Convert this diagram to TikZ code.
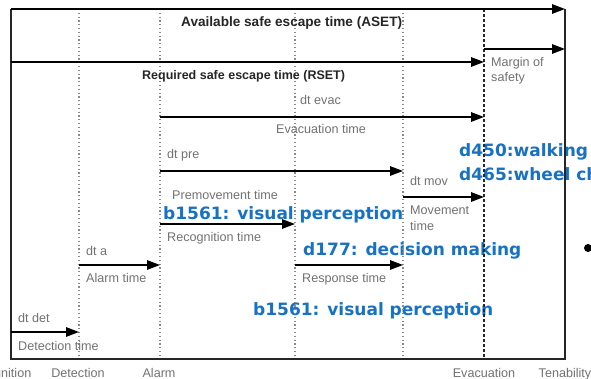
\documentclass[tikz,border=0pt]{standalone}
\usepackage{fontspec}
\setmainfont{Liberation Sans}
\newfontfamily\bluefont{DejaVu Sans}
\usetikzlibrary{arrows.meta}
\definecolor{txtgray}{HTML}{727272}
\definecolor{icfblue}{HTML}{1872C4}
\definecolor{dotgray}{HTML}{8A8A8A}
\tikzset{
  gl/.style={anchor=base west, inner sep=0pt, text=txtgray, font=\fontsize{12.6}{13}\selectfont},
  bl/.style={anchor=base west, inner sep=0pt, text=black!85, font=\fontsize{12.5}{13}\selectfont\bfseries},
  icf/.style={anchor=base west, inner sep=0pt, text=icfblue, font=\bluefont\fontsize{17}{20}\selectfont\bfseries},
  tl/.style={anchor=base, inner sep=0pt, text=txtgray, font=\fontsize{12.6}{13}\selectfont},
  arr/.style={line width=1.4pt, -{Triangle[length=13pt,width=9.5pt]}},
  frame/.style={line width=1.4pt, draw=black!85},
  dotv/.style={line width=1.2pt, draw=dotgray, dash pattern=on 1.2pt off 2.6pt},
  dashv/.style={line width=1.3pt, draw=black!85, dash pattern=on 3pt off 2pt}
}
\begin{document}
\begin{tikzpicture}[x=1pt,y=-1pt]
\useasboundingbox (0,0) rectangle (591,379);
\clip (0,0) rectangle (591,379);
\fill[white] (0,0) rectangle (591,379);
% blue ICF labels (under the lines)
\node[icf] (w1) at (459,157) {d450:walking};
\node[icf] (w2) at (459,181) {d465:wheel chair};
\node[icf] (v1) at (163,220) {b1561: visual perception};
\node[icf] (dm) at (303,255) {d177: decision making};
\node[icf] (v2) at (253,315) {b1561: visual perception};
\fill (588,248) circle (4);
% event coordinates
\coordinate (ig) at (11,359);
\coordinate (de) at (79,359);
\coordinate (al) at (160,359);
\coordinate (rc) at (295,359);
\coordinate (rs) at (403,359);
\coordinate (ev) at (484,359);
\coordinate (te) at (565,359);
% vertical guide lines
\draw[dotv] (79,9) -- (de);
\draw[dotv] (160,9) -- (al);
\draw[dotv] (295,9) -- (rc);
\draw[dotv] (403,9) -- (rs);
\draw[dashv] (484,9) -- (ev);
% frame
\draw[frame] (11,9) -- (ig) -- (te) -- (565,9);
% arrows
\coordinate (a1s) at (11,9);   \coordinate (a1e) at (565,9);
\coordinate (a2s) at (11,62);  \coordinate (a2e) at (484,62);
\coordinate (a3s) at (484,49); \coordinate (a3e) at (565,49);
\coordinate (a4s) at (160,117);\coordinate (a4e) at (484,117);
\coordinate (a5s) at (160,171);\coordinate (a5e) at (403,171);
\coordinate (a6s) at (403,197);\coordinate (a6e) at (484,197);
\coordinate (a7s) at (160,224);\coordinate (a7e) at (295,224);
\coordinate (a8s) at (79,265); \coordinate (a8e) at (160,265);
\coordinate (a9s) at (295,265);\coordinate (a9e) at (403,265);
\coordinate (a10s) at (11,332);\coordinate (a10e) at (79,332);
\draw[arr] (a1s) -- (a1e);
\draw[arr] (a2s) -- (a2e);
\draw[arr] (a3s) -- (a3e);
\draw[arr] (a4s) -- (a4e);
\draw[arr] (a5s) -- (a5e);
\draw[arr] (a6s) -- (a6e);
\draw[arr] (a7s) -- (a7e);
\draw[arr] (a8s) -- (a8e);
\draw[arr] (a9s) -- (a9e);
\draw[arr] (a10s) -- (a10e);
% labels
\node[bl, font=\fontsize{13.6}{14}\selectfont\bfseries] (aset) at (181,27) {Available safe escape time (ASET)};
\node[bl] (rset) at (142,80) {Required safe escape time (RSET)};
\node[gl] (ms1) at (491,67) {Margin of};
\node[gl] (ms2) at (491,82) {safety};
\node[gl] (dte) at (300,105) {dt evac};
\node[gl] (evt) at (276,134) {Evacuation time};
\node[gl] (dtp) at (167,159) {dt pre};
\node[gl] (dtm) at (410,186) {dt mov};
\node[gl] (pmt) at (172,200) {Premovement time};
\node[gl] (mvt1) at (410,215) {Movement};
\node[gl] (mvt2) at (410,230) {time};
\node[gl] (rct) at (167,242) {Recognition time};
\node[gl] (dta) at (86,255) {dt a};
\node[gl] (alt) at (86,282) {Alarm time};
\node[gl] (rst) at (302,282) {Response time};
\node[gl] (dtd) at (18,322) {dt det};
\node[gl] (dtt) at (18,350) {Detection time};
\node[tl] (lig) at (11,377) {Ignition};
\node[tl] (lde) at (78,377) {Detection};
\node[tl] (lal) at (159,377) {Alarm};
\node[tl] (lev) at (484,377) {Evacuation};
\node[tl] (lte) at (565,377) {Tenability};
\end{tikzpicture}
\end{document}
